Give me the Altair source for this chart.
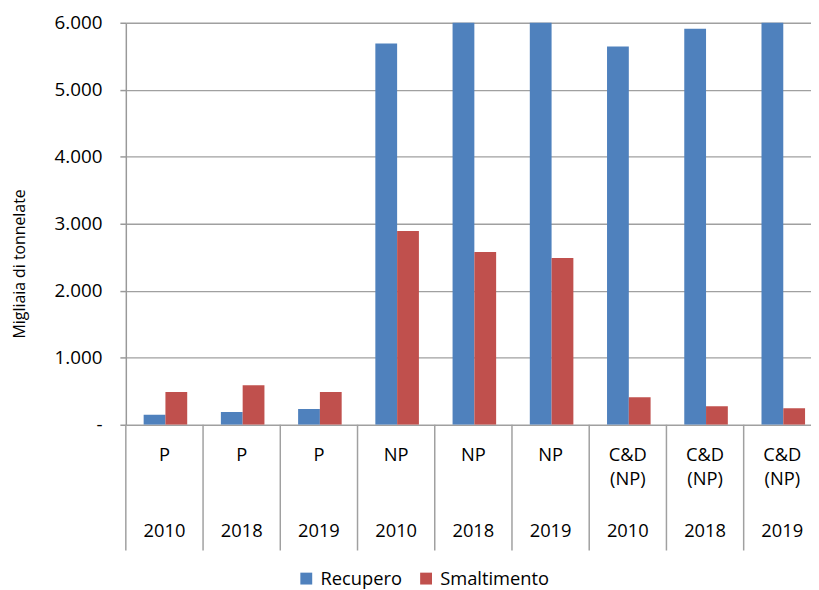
import altair as alt
import pandas as pd

# ---- data ----
gruppi = ["P", "P", "P", "NP", "NP", "NP", "C&D", "C&D", "C&D"]
sottogruppi = ["", "", "", "", "", "", "(NP)", "(NP)", "(NP)"]
anni = ["2010", "2018", "2019", "2010", "2018", "2019", "2010", "2018", "2019"]
recupero = [150, 190, 235, 5690, 6400, 6400, 5645, 5910, 6200]
smaltimento = [490, 590, 490, 2890, 2580, 2490, 410, 275, 245]
serie = ["Recupero", "Smaltimento"]
colori = ["#4F81BD", "#C0504D"]
y_ticks = [0, 1000, 2000, 3000, 4000, 5000, 6000]

FONT = "Open Sans"
PLOT_W = 692          # visible plot width (reference crops the last column)
COL_W = 78            # pixel width of one category column in the reference

rows = []
for i, (r, s) in enumerate(zip(recupero, smaltimento)):
    rows.append({"idx": i, "Serie": "Recupero", "valore": r})
    rows.append({"idx": i, "Serie": "Smaltimento", "valore": s})
df_bars = pd.DataFrame(rows)
df_cols = pd.DataFrame({"idx": list(range(len(gruppi))), "gruppo": gruppi,
                        "sotto": sottogruppi, "anno": anni})

# x: one unit per category column; the domain shows 692/78 columns like the cropped original
x_scale = alt.Scale(domain=[0, PLOT_W / COL_W], nice=False, zero=False)

bars = alt.Chart(df_bars).transform_calculate(
    x0=f"datum.idx + (datum.Serie == 'Recupero' ? {18 / COL_W} : {40 / COL_W})",
).transform_calculate(
    x1=f"datum.x0 + {22 / COL_W}",
).mark_rect(clip=True).encode(
    x=alt.X("x0:Q", scale=x_scale, axis=None),
    x2="x1:Q",
    y=alt.Y("valore:Q",
            scale=alt.Scale(domain=[0, 6000], nice=False),
            axis=alt.Axis(values=y_ticks,
                          labelExpr="datum.value == 0 ? '-\u00a0\u00a0\u00a0' : replace(format(datum.value, ','), ',', '.')",
                          title="Migliaia di tonnelate",
                          titleX=-107, titleY=243, titleAngle=-90,
                          titleAlign="center", titleBaseline="middle",
                          titleFont=FONT, titleFontSize=16, titleFontWeight="normal",
                          titleColor="#000000",
                          labelFont=FONT, labelFontSize=19, labelColor="#000000",
                          labelPadding=18, tickSize=6, tickColor="#999999", tickWidth=1.5,
                          domainColor="#999999", domainWidth=1.5,
                          grid=True, gridColor="#a0a0a0", gridWidth=1.4)),
    y2=alt.datum(0),
    color=alt.Color("Serie:N", scale=alt.Scale(domain=serie, range=colori),
                    legend=alt.Legend(orient="none", legendX=173, legendY=552,
                                      direction="horizontal", title=None,
                                      symbolType="square", symbolSize=144,
                                      symbolStrokeWidth=0, symbolOpacity=1,
                                      labelFont=FONT, labelFontSize=18.5, labelColor="#000000",
                                      labelOffset=5, columnPadding=15, padding=0)),
)

sep = alt.Chart(df_cols).mark_rule(color="#a0a0a0", strokeWidth=1.5).encode(
    x=alt.X("idx:Q", scale=x_scale, axis=None),
    y=alt.value(406),
    y2=alt.value(533),
)

def label_layer(field, ypix):
    return alt.Chart(df_cols).transform_calculate(
        xc="datum.idx + 0.5"
    ).mark_text(font=FONT, fontSize=18.5, color="#000000", baseline="alphabetic").encode(
        x=alt.X("xc:Q", scale=x_scale, axis=None),
        y=alt.value(ypix),
        text=f"{field}:N",
    )

txt_g = label_layer("gruppo", 443)
txt_s = label_layer("sotto", 467)
txt_a = label_layer("anno", 519)

chart = alt.layer(bars, sep, txt_g, txt_s, txt_a).properties(
    width=PLOT_W, height=406,
    autosize=alt.AutoSizeParams(type="none"),
    padding={"left": 119, "top": 12, "right": 0, "bottom": 164},
    background="white",
).configure_view(stroke=None).configure_scale(continuousPadding=0)

chart.save("out.html", embed_options={"renderer": "svg", "actions": False})
